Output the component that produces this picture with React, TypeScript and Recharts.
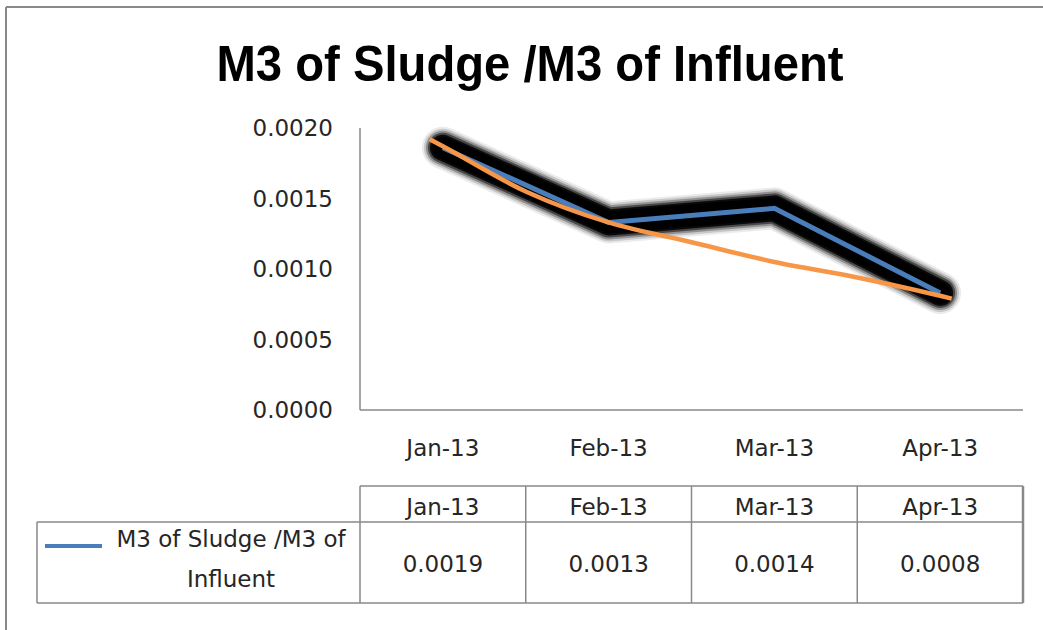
import React from 'react';
import { LineChart, Line, XAxis, YAxis } from 'recharts';

// ---------- data ----------
const chartTitle = 'M3 of Sludge /M3 of Influent';
const seriesName = 'M3 of Sludge /M3 of Influent';
const seriesNameLines = ['M3 of Sludge /M3 of', 'Influent'];
const months = ['Jan-13', 'Feb-13', 'Mar-13', 'Apr-13'];
const sludgeRatio = [0.00186, 0.00133, 0.00143, 0.00083];
// trendline (category index, value)
const trendPos = [0.92, 1, 1.5, 2, 2.5, 3, 3.5, 4, 4.07];
const trendVal = [0.00192, 0.00187, 0.00155, 0.00133, 0.00119, 0.00105, 0.00094, 0.00081, 0.00079];
const yTicks = [0, 0.0005, 0.001, 0.0015, 0.002];
const xTicks = [1, 2, 3, 4];

const seriesData = sludgeRatio.map((v, i) => ({ x: i + 1, y: v }));
const trendData = trendPos.map((p, i) => ({ x: p, y: trendVal[i] }));

// ---------- layout ----------
const W = 1043;
const H = 630;
const PLOT_LEFT = 360;
const PLOT_RIGHT = 1023;
const PLOT_TOP = 128;
const PLOT_BOTTOM = 410;
const FONT = '"DejaVu Sans", sans-serif';
const TEXT = '#262626';
const GRID = '#898989';
const BLUE = '#4a7ebb';
const ORANGE = '#f79646';

// shadow halo layers: [stroke width, opacity]
const halo: [number, number][] = [
  [42, 0.08],
  [38, 0.15],
  [34, 0.28],
  [30, 0.5],
  [26, 0.85],
  [22, 1],
];

const band = (PLOT_RIGHT - PLOT_LEFT) / months.length;
const colEdges = months.map((_, i) => PLOT_LEFT + i * band).concat([PLOT_RIGHT]);

const tickStyle = { fontSize: 23, fontFamily: FONT, fill: TEXT };

function Overlay() {
  const headTop = 486;
  const headBottom = 522;
  const rowBottom = 603;
  const legendLeft = 37;
  return (
    <svg width={W} height={H} style={{ position: 'absolute', left: 0, top: 0, pointerEvents: 'none' }}>
      <line x1={6} y1={7} x2={W} y2={7} stroke={GRID} strokeWidth={2} />
      <line x1={6} y1={7} x2={6} y2={H} stroke={GRID} strokeWidth={2} />
      <text
        x={530}
        y={81}
        textAnchor="middle"
        textLength={627}
        lengthAdjust="spacingAndGlyphs"
        style={{ fontFamily: '"Liberation Sans", Arial, sans-serif', fontWeight: 700, fontSize: 50, fill: '#000' }}
      >
        {chartTitle}
      </text>
      <g stroke={GRID} strokeWidth={1.5} fill="none">
        <line x1={PLOT_LEFT} y1={headTop} x2={PLOT_RIGHT} y2={headTop} />
        <line x1={legendLeft} y1={headBottom} x2={PLOT_RIGHT} y2={headBottom} />
        <line x1={legendLeft} y1={rowBottom} x2={PLOT_RIGHT} y2={rowBottom} />
        <line x1={legendLeft} y1={headBottom} x2={legendLeft} y2={rowBottom} />
        {colEdges.map((x, i) => (
          <line key={i} x1={x} y1={headTop} x2={x} y2={rowBottom} strokeWidth={i === colEdges.length - 1 ? 2.5 : 1.5} />
        ))}
      </g>
      {months.map((m, i) => (
        <text key={'h' + i} x={PLOT_LEFT + (i + 0.5) * band} y={515} textAnchor="middle" style={tickStyle}>
          {m}
        </text>
      ))}
      {sludgeRatio.map((v, i) => (
        <text key={'v' + i} x={PLOT_LEFT + (i + 0.5) * band} y={572} textAnchor="middle" style={tickStyle}>
          {v.toFixed(4)}
        </text>
      ))}
      <line x1={45} y1={546} x2={102} y2={546} stroke={BLUE} strokeWidth={4} />
      <text x={231} y={547} textAnchor="middle" style={tickStyle}>
        {seriesNameLines[0]}
      </text>
      <text x={231} y={587} textAnchor="middle" style={tickStyle}>
        {seriesNameLines[1]}
      </text>
    </svg>
  );
}

export default function App() {
  return (
    <div style={{ position: 'absolute', left: 0, top: 0, width: W, height: H, background: '#fff' }}>
      <LineChart
        width={W}
        height={H}
        margin={{ top: PLOT_TOP, right: W - PLOT_RIGHT, left: 0, bottom: H - PLOT_BOTTOM - 40 }}
      >
        <XAxis
          type="number"
          dataKey="x"
          domain={[0.5, 4.5]}
          ticks={xTicks}
          tickFormatter={(v: number) => months[v - 1]}
          height={40}
          axisLine={{ stroke: GRID, strokeWidth: 1.5 }}
          tickLine={false}
          tickSize={0}
          tickMargin={30}
          tick={tickStyle}
        />
        <YAxis
          type="number"
          domain={[0, 0.002]}
          ticks={yTicks}
          tickFormatter={(v: number) => v.toFixed(4)}
          width={PLOT_LEFT}
          axisLine={{ stroke: GRID, strokeWidth: 1.5 }}
          tickLine={false}
          tickSize={0}
          tickMargin={27}
          tick={tickStyle}
        />
        {halo.map(([w, o], i) => (
          <Line
            key={'halo' + i}
            data={seriesData}
            dataKey="y"
            type="linear"
            stroke="#000"
            strokeOpacity={o}
            strokeWidth={w}
            strokeLinecap="round"
            strokeLinejoin="round"
            dot={false}
            activeDot={false}
            legendType="none"
            isAnimationActive={false}
          />
        ))}
        <Line
          data={seriesData}
          dataKey="y"
          name={seriesName}
          type="linear"
          stroke={BLUE}
          strokeWidth={5}
          dot={false}
          activeDot={false}
          isAnimationActive={false}
        />
        <Line
          data={trendData}
          dataKey="y"
          type="monotone"
          stroke={ORANGE}
          strokeWidth={4.5}
          dot={false}
          activeDot={false}
          legendType="none"
          isAnimationActive={false}
        />
      </LineChart>
      <Overlay />
    </div>
  );
}
